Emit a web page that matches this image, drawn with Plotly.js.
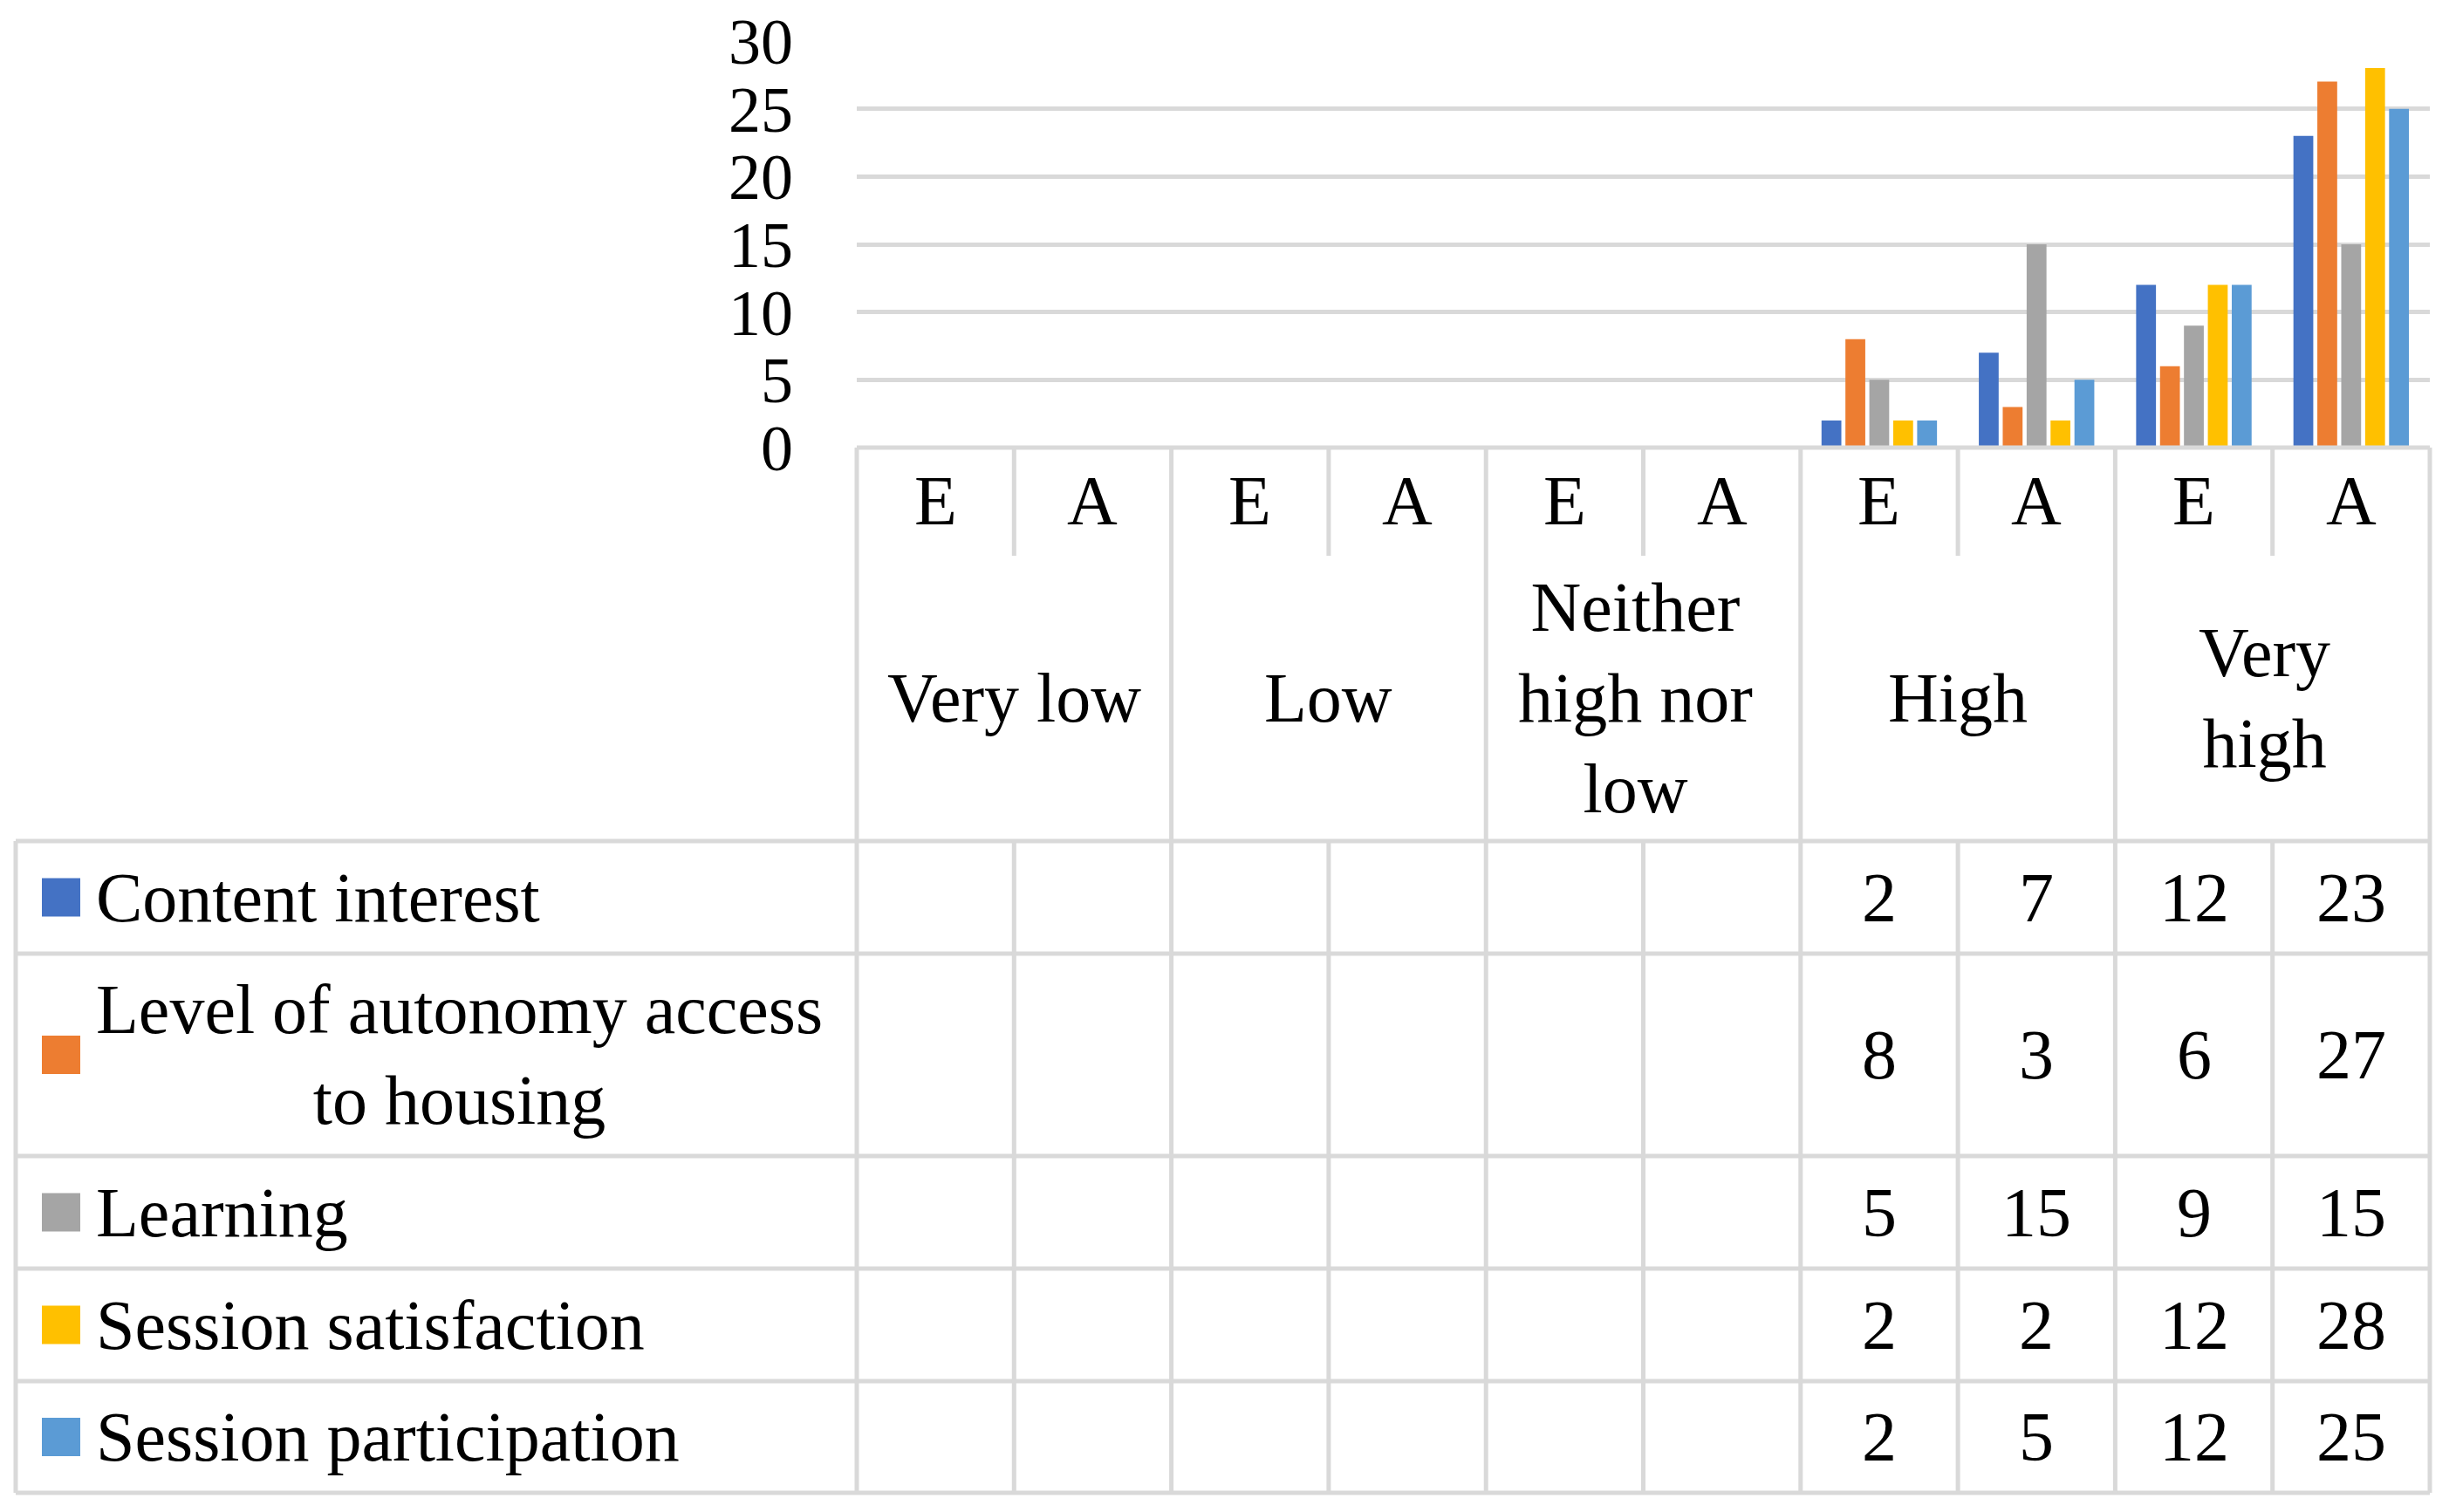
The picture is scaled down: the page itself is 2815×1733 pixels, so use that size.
<!DOCTYPE html>
<html>
<head>
<meta charset="utf-8">
<script src="https://cdn.plot.ly/plotly-3.0.1.min.js"></script>
<style>
  body { margin: 0; background: #fff; }
  #myDiv { width: 2815px; height: 1733px; }
</style>
</head>
<body>
<div id="myDiv"></div>
<script>
// columns: E / A for each level
const colLabels = ['E', 'A', 'E', 'A', 'E', 'A', 'E', 'A', 'E', 'A'];
const groups = ['Very low', 'Low', 'Neither<br>high nor<br>low', 'High', 'Very<br>high'];

const seriesNames = ['Content interest', 'Level of autonomy access<br>to housing', 'Learning', 'Session satisfaction', 'Session participation'];
const contentInterest = [null, null, null, null, null, null, 2, 7, 12, 23];
const autonomyHousing = [null, null, null, null, null, null, 8, 3, 6, 27];
const learning = [null, null, null, null, null, null, 5, 15, 9, 15];
const sessionSatisfaction = [null, null, null, null, null, null, 2, 2, 12, 28];
const sessionParticipation = [null, null, null, null, null, null, 2, 5, 12, 25];
const colors = ['#4472C4', '#ED7D31', '#A5A5A5', '#FFC000', '#5B9BD5'];

const seriesData = [contentInterest, autonomyHousing, learning, sessionSatisfaction, sessionParticipation];

// page geometry (px)
const W = 2815, H = 1733;
const L = 982, R = 2785, T = 47, B = 513;
const tableLeft = 18;
const headSplit = 637;           // end of E/A divider lines
const rowLines = [964, 1093, 1325, 1454, 1583, 1711];
const gridCol = '#D9D9D9';
const lw = 5;
const fontFam = 'Liberation Serif, Times New Roman, serif';
const fs = 80;

function px(p) { return (p - L) / (R - L); }
function py(p) { return (B - p) / (B - T); }

const xs = colLabels.map((_, i) => i);

const data = seriesData.map((vals, k) => ({
    x: xs,
    y: vals,
    type: 'bar',
    name: seriesNames[k],
    marker: { color: colors[k] },
    showlegend: false,
    hoverinfo: 'y'
}));

const shapes = [];
function hline(y, x0, x1) {
    shapes.push({ type: 'line', xref: 'paper', yref: 'paper', x0: px(x0), x1: px(x1), y0: py(y), y1: py(y), line: { color: gridCol, width: lw } });
}
function vline(x, y0, y1) {
    shapes.push({ type: 'line', xref: 'paper', yref: 'paper', x0: px(x), x1: px(x), y0: py(y0), y1: py(y1), line: { color: gridCol, width: lw } });
}

hline(B, L, R);
rowLines.forEach(y => hline(y, tableLeft, R));
vline(tableLeft, rowLines[0], rowLines[rowLines.length - 1]);
const cw = (R - L) / colLabels.length;
for (let i = 0; i <= colLabels.length; i++) {
    const x = L + i * cw;
    if (i % 2 === 0) {
        vline(x, B, rowLines[rowLines.length - 1]);
    } else {
        vline(x, B, headSplit);
        vline(x, rowLines[0], rowLines[rowLines.length - 1]);
    }
}

const annotations = [];
const txtFont = { family: fontFam, size: fs, color: '#000' };

// E / A header
colLabels.forEach((lab, i) => {
    annotations.push({ x: i, y: py(574), xref: 'x', yref: 'paper', text: lab, showarrow: false, font: txtFont, xanchor: 'center', yanchor: 'middle' });
});
// group labels
groups.forEach((g, j) => {
    const multi = g.indexOf('<br>') >= 0;
    annotations.push({ x: 2 * j + 0.5, y: py(800), xref: 'x', yref: 'paper', text: g, showarrow: false, font: txtFont, xanchor: 'center', yanchor: 'middle', align: 'center', xshift: multi ? -9 : 0 });
});

// data table rows
seriesData.forEach((vals, k) => {
    const top = rowLines[k], bot = rowLines[k + 1];
    const mid = (top + bot) / 2;
    shapes.push({ type: 'rect', xref: 'paper', yref: 'paper', x0: px(48), x1: px(92), y0: py(mid - 22), y1: py(mid + 22), fillcolor: colors[k], line: { width: 0 } });
    annotations.push({ x: px(108), y: py(mid), xref: 'paper', yref: 'paper', text: seriesNames[k], showarrow: false, font: txtFont, xanchor: 'left', yanchor: 'middle', align: 'center' });
    vals.forEach((v, i) => {
        if (v === null) return;
        annotations.push({ x: i, y: py(mid), xref: 'x', yref: 'paper', text: String(v), showarrow: false, font: txtFont, xanchor: 'center', yanchor: 'middle' });
    });
});

const layout = {
    width: W,
    height: H,
    margin: { l: L, r: W - R, t: T, b: H - B, pad: 0 },
    paper_bgcolor: '#fff',
    plot_bgcolor: '#fff',
    barmode: 'group',
    bargap: 0.24,
    bargroupgap: 0.17,
    xaxis: {
        range: [-0.5, colLabels.length - 0.5],
        showticklabels: false,
        showgrid: false,
        zeroline: false,
        ticks: ''
    },
    yaxis: {
        range: [0, 30],
        dtick: 5,
        showgrid: true,
        gridcolor: gridCol,
        gridwidth: lw,
        zeroline: false,
        ticks: '',
        ticklabelstandoff: 72,
        tickfont: { family: fontFam, size: 74, color: '#000' }
    },
    shapes: shapes,
    annotations: annotations
};

Plotly.newPlot('myDiv', data, layout, { displayModeBar: false });
</script>
</body>
</html>
